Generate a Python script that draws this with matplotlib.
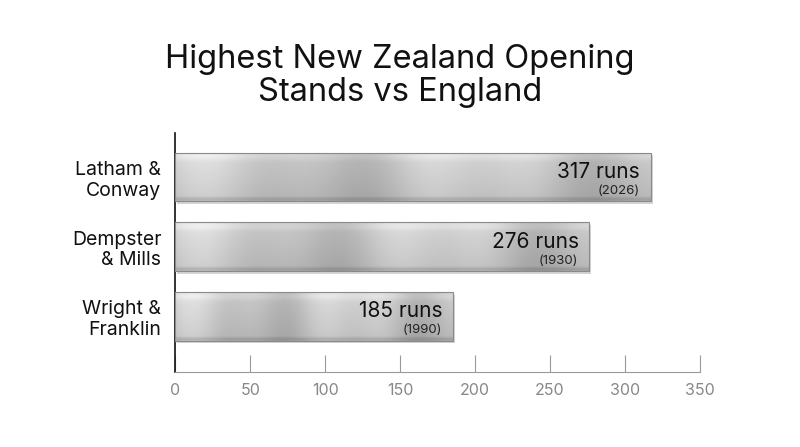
import numpy as np
import matplotlib.pyplot as plt
from matplotlib.patches import Rectangle

pairs = ["Latham &\nConway", "Dempster\n& Mills", "Wright &\nFranklin"]
runs = [317, 276, 185]
years = ["2026", "1930", "1990"]
xticks = [0, 50, 100, 150, 200, 250, 300, 350]

plt.rcParams['font.family'] = ['Inter', 'DejaVu Sans']
fig = plt.figure(figsize=(8, 4.47), dpi=100)
ax = fig.add_axes([0.219, 0.168, 0.656, 0.534])
ax.set_xlim(0, 350)
ax.set_ylim(2.8, -0.63)

# metallic texture
xs = np.linspace(0, 1, 400)
horiz = 0.80 + 0.06*np.sin(xs*2*np.pi*1.8 + 0.8) + 0.03*np.sin(xs*2*np.pi*4.3)
ys = np.linspace(0, 1, 60)
vert = 1.0 - 0.10*ys + 0.06*np.exp(-((ys-0.08)/0.08)**2) - 0.12*np.exp(-((ys-0.97)/0.04)**2)
tex = np.clip(np.outer(vert, horiz), 0, 1)

h = 0.7
for i, (r, y) in enumerate(zip(runs, years)):
    shadow = Rectangle((1.5, i - h/2 + 0.04), r, h, facecolor='#b8b8b8', edgecolor='none', alpha=0.6, zorder=1)
    ax.add_patch(shadow)
    rect = Rectangle((0, i - h/2), r, h, facecolor='none', edgecolor='#8a8a8a', lw=0.8, zorder=3)
    ax.add_patch(rect)
    im = ax.imshow(tex, cmap='gray', vmin=0, vmax=1, aspect='auto',
                   extent=(0, r, i + h/2, i - h/2), zorder=2, interpolation='bilinear')
    im.set_clip_path(rect)
    ax.text(r - 7, i - 0.07, f"{r} runs", ha='right', va='center', fontsize=15, color='#111111', zorder=4)
    ax.text(r - 7, i + 0.2, f"({y})", ha='right', va='center', fontsize=9.5, color='#222222', zorder=4)

ax.set_yticks(range(len(pairs)))
ax.set_yticklabels(pairs, fontsize=14, color='#111111', linespacing=1.2)
ax.tick_params(axis='y', length=0, pad=10)
ax.set_xticks(xticks)
ax.tick_params(axis='x', direction='in', length=12, color='#999999', labelcolor='#888888', labelsize=11.5, pad=8)
for s in ['top', 'right']:
    ax.spines[s].set_visible(False)
ax.spines['left'].set_color('#111111')
ax.spines['left'].set_linewidth(1.2)
ax.spines['bottom'].set_color('#999999')

fig.text(0.5, 0.83, "Highest New Zealand Opening\nStands vs England", ha='center', va='center',
         fontsize=23.5, color='#111111', linespacing=1.1)
fig.savefig("out.png", dpi=100)
